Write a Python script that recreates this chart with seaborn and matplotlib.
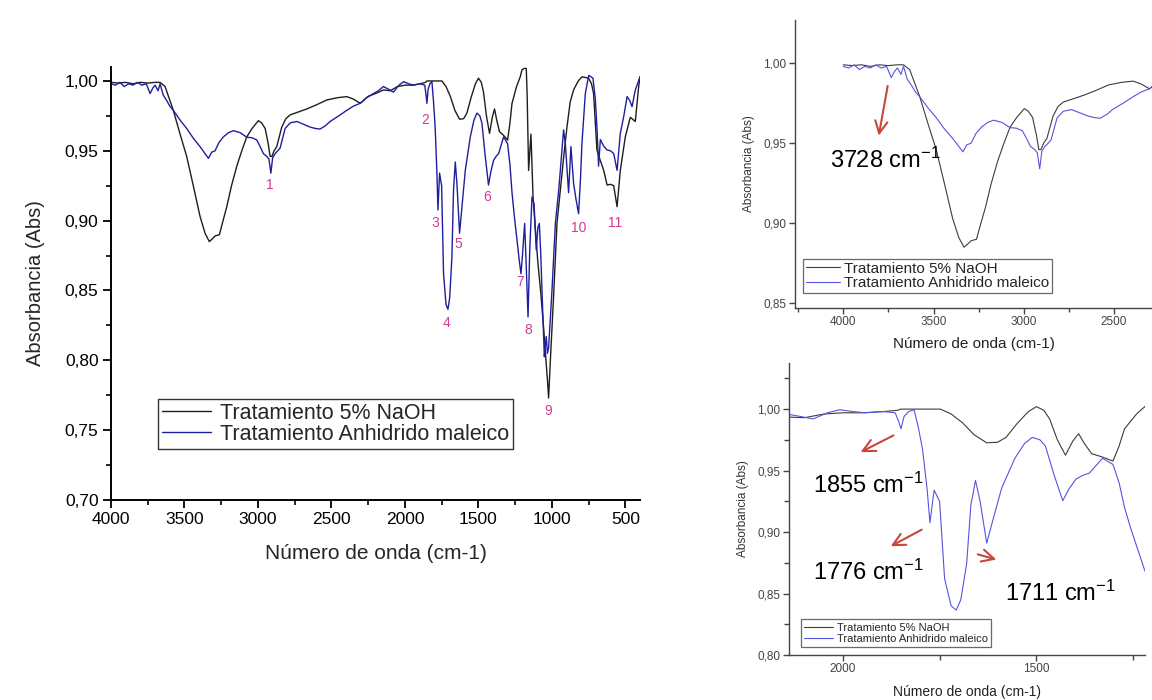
import numpy as np
import pandas as pd
import matplotlib
matplotlib.use("Agg")
import matplotlib.pyplot as plt
import seaborn as sns
from matplotlib.ticker import MultipleLocator, FuncFormatter

sns.set_theme(style="ticks")
plt.rcParams['font.family'] = ['Liberation Sans', 'DejaVu Sans']
plt.rcParams['mathtext.fontset'] = 'custom'
plt.rcParams['mathtext.rm'] = 'Liberation Sans'
plt.rcParams['mathtext.it'] = 'Liberation Sans:italic'

# ---------------- data ----------------
wavenumber_naoh = [4000, 3950, 3900, 3850, 3800, 3750, 3700, 3666, 3632, 3576, 3530, 3485, 3440,
                   3394, 3360, 3331, 3310, 3292, 3262, 3240, 3212, 3180, 3144, 3110, 3076, 3040,
                   2997, 2975, 2951, 2930, 2917, 2905, 2890, 2872, 2855, 2838, 2810, 2781, 2720,
                   2667, 2600, 2531, 2460, 2395, 2350, 2304, 2250, 2200, 2146, 2100, 2050, 2000,
                   1950, 1896, 1860, 1850, 1800, 1748, 1720, 1691, 1660, 1628, 1600, 1578, 1550,
                   1520, 1499, 1480, 1465, 1445, 1424, 1405, 1390, 1375, 1356, 1328, 1301, 1285,
                   1271, 1240, 1215, 1203, 1188, 1174, 1168, 1158, 1142, 1128, 1113, 1095, 1075,
                   1055, 1040, 1030, 1022, 1010, 988, 965, 942, 920, 897, 875, 852, 820, 795, 750,
                   730, 716, 693, 670, 647, 624, 600, 579, 556, 534, 500, 466, 432, 410, 400]
abs_naoh = [0.999, 0.9985, 0.999, 0.998, 0.999, 0.9985, 0.999, 0.999, 0.996, 0.979, 0.962, 0.946,
            0.925, 0.903, 0.891, 0.885, 0.887, 0.889, 0.890, 0.899, 0.910, 0.925, 0.939, 0.950,
            0.960, 0.966, 0.9716, 0.970, 0.966, 0.955, 0.946, 0.946, 0.950, 0.953, 0.960, 0.967,
            0.973, 0.9757, 0.978, 0.980, 0.983, 0.9864, 0.988, 0.9888, 0.987, 0.984, 0.989, 0.991,
            0.9936, 0.993, 0.996, 0.997, 0.997, 0.998, 0.999, 1.000, 1.000, 1.000, 0.996, 0.989,
            0.979, 0.9726, 0.973, 0.977, 0.988, 0.998, 1.002, 0.999, 0.992, 0.975, 0.9625, 0.974,
            0.980, 0.972, 0.9637, 0.961, 0.9577, 0.970, 0.984, 0.996, 1.003, 1.008, 1.009, 1.009,
            0.990, 0.936, 0.962, 0.917, 0.895, 0.870, 0.848, 0.822, 0.800, 0.786, 0.773, 0.800,
            0.846, 0.898, 0.922, 0.945, 0.967, 0.985, 0.9936, 1.000, 1.003, 1.002, 0.998, 0.991,
            0.9506, 0.943, 0.936, 0.9255, 0.926, 0.925, 0.910, 0.936, 0.960, 0.974, 0.971, 0.995,
            1.003]

wavenumber_ma = [4000, 3970, 3940, 3910, 3880, 3850, 3820, 3790, 3760, 3734, 3715, 3700, 3680,
                 3666, 3645, 3621, 3600, 3576, 3530, 3485, 3440, 3394, 3360, 3337, 3315, 3292,
                 3265, 3235, 3200, 3167, 3121, 3076, 3042, 3008, 2985, 2963, 2940, 2925, 2912,
                 2900, 2883, 2865, 2849, 2830, 2815, 2780, 2735, 2690, 2645, 2610, 2577, 2540,
                 2509, 2450, 2395, 2350, 2304, 2260, 2214, 2180, 2146, 2110, 2078, 2040, 2009,
                 1975, 1941, 1896, 1865, 1856, 1850, 1842, 1830, 1816, 1805, 1794, 1782, 1775,
                 1768, 1764, 1750, 1737, 1720, 1707, 1695, 1680, 1669, 1657, 1645, 1628, 1610,
                 1589, 1555, 1530, 1510, 1490, 1476, 1453, 1431, 1415, 1397, 1380, 1362, 1328,
                 1301, 1285, 1271, 1255, 1237, 1220, 1210, 1200, 1185, 1175, 1162, 1150, 1135,
                 1121, 1106, 1095, 1085, 1075, 1067, 1051, 1045, 1038, 1030, 1022, 1010, 999, 976,
                 953, 935, 920, 908, 886, 870, 852, 835, 818, 805, 795, 772, 749, 735, 720, 704,
                 693, 682, 670, 645, 624, 600, 579, 556, 534, 510, 488, 470, 454, 432, 410, 400]
abs_ma = [0.998, 0.997, 0.999, 0.996, 0.998, 0.997, 0.999, 0.997, 0.998, 0.991, 0.995, 0.997,
          0.993, 0.998, 0.990, 0.986, 0.982, 0.979, 0.972, 0.966, 0.959, 0.953, 0.948, 0.9446,
          0.949, 0.950, 0.956, 0.960, 0.963, 0.9644, 0.963, 0.9597, 0.9594, 0.9578, 0.953, 0.948,
          0.946, 0.944, 0.934, 0.945, 0.948, 0.950, 0.952, 0.960, 0.966, 0.970, 0.971, 0.969,
          0.967, 0.966, 0.9656, 0.968, 0.971, 0.975, 0.979, 0.982, 0.984, 0.988, 0.991, 0.993,
          0.996, 0.994, 0.992, 0.997, 0.9995, 0.998, 0.997, 0.998, 0.997, 0.990, 0.984, 0.994,
          0.998, 0.9995, 0.985, 0.967, 0.934, 0.9076, 0.925, 0.934, 0.925, 0.862, 0.840, 0.8365,
          0.845, 0.874, 0.922, 0.942, 0.925, 0.891, 0.912, 0.936, 0.960, 0.972, 0.977, 0.975,
          0.970, 0.946, 0.9255, 0.935, 0.943, 0.946, 0.948, 0.960, 0.955, 0.940, 0.920, 0.903,
          0.886, 0.870, 0.862, 0.875, 0.898, 0.870, 0.831, 0.880, 0.917, 0.912, 0.879, 0.895,
          0.898, 0.875, 0.850, 0.8026, 0.810, 0.817, 0.805, 0.809, 0.830, 0.850, 0.898, 0.922,
          0.945, 0.965, 0.955, 0.920, 0.953, 0.9267, 0.915, 0.905, 0.930, 0.9556, 0.991, 1.004,
          1.003, 1.002, 0.987, 0.967, 0.939, 0.958, 0.953, 0.9506, 0.950, 0.948, 0.936, 0.9625,
          0.975, 0.9888, 0.986, 0.9816, 0.9936, 1.000, 1.003]

series_labels = ["Tratamiento 5% NaOH", "Tratamiento Anhidrido maleico"]

peak_names = ["1", "2", "3", "4", "5", "6", "7", "8", "9", "10", "11"]
peak_text_x = [2917, 1862, 1794, 1719, 1637, 1440, 1215, 1162, 1024, 820, 568]
peak_text_y = [0.9255, 0.972, 0.898, 0.827, 0.883, 0.917, 0.856, 0.822, 0.764, 0.895, 0.898]

df_naoh = pd.DataFrame({"wavenumber": wavenumber_naoh, "absorbance": abs_naoh})
df_ma = pd.DataFrame({"wavenumber": wavenumber_ma, "absorbance": abs_ma})

comma = FuncFormatter(lambda v, p: f"{v:.2f}".replace(".", ","))

W, H = 1152, 700
fig = plt.figure(figsize=(W / 100, H / 100), dpi=100)
fig.patch.set_facecolor("white")


def axes_px(left, right, top, bottom):
    return fig.add_axes([left / W, 1 - bottom / H, (right - left) / W, (bottom - top) / H])


def style(ax, spine_color, lw):
    for s in ["top", "right"]:
        ax.spines[s].set_visible(False)
    for s in ["left", "bottom"]:
        ax.spines[s].set_color(spine_color)
        ax.spines[s].set_linewidth(lw)
    ax.set_facecolor("white")
    ax.grid(False)


# ---------------- main chart ----------------
ax = axes_px(111, 640, 67, 500)
style(ax, "black", 1.4)
main_black = "#1e1e1e"
main_blue = "#1f1f9e"
sns.lineplot(data=df_naoh, x="wavenumber", y="absorbance", ax=ax, color=main_black, lw=1.0,
             estimator=None, sort=False, label=series_labels[0])
sns.lineplot(data=df_ma, x="wavenumber", y="absorbance", ax=ax, color=main_blue, lw=1.0,
             estimator=None, sort=False, label=series_labels[1])
ax.set_xlim(4000, 400)
ax.set_ylim(0.70, 1.01)
ax.xaxis.set_major_locator(MultipleLocator(500))
ax.xaxis.set_minor_locator(MultipleLocator(250))
ax.yaxis.set_major_locator(MultipleLocator(0.05))
ax.yaxis.set_minor_locator(MultipleLocator(0.025))
ax.yaxis.set_major_formatter(comma)
ax.tick_params(which="major", direction="out", length=6, width=1.3, labelsize=12.5,
               colors="black", pad=3)
ax.tick_params(which="minor", direction="out", length=3.5, width=1.2, colors="black")
ax.set_xlabel("Número de onda (cm-1)", fontsize=15, labelpad=12)
ax.set_ylabel("Absorbancia (Abs)", fontsize=14.5, labelpad=14)
for name, tx, ty in zip(peak_names, peak_text_x, peak_text_y):
    ax.text(tx, ty, name, color="#d33b92", fontsize=10, ha="center", va="center")
leg = ax.legend(loc="lower left", bbox_to_anchor=(0.089, 0.118), borderaxespad=0,
                fontsize=15.5, frameon=True, fancybox=False, handlelength=2.3,
                handletextpad=0.4, labelspacing=0.02, borderpad=0.18)
leg.get_frame().set_edgecolor("black")
leg.get_frame().set_linewidth(1.0)
for line in leg.get_lines():
    line.set_linewidth(1.0)

inset_black = "#3c3c3c"
inset_blue = "#5555dd"
grey = "#444444"
arrow_red = "#c9463d"

# ---------------- top inset ----------------
ax1 = axes_px(795, 1152, 20, 308)
style(ax1, grey, 1.0)
sns.lineplot(data=df_naoh, x="wavenumber", y="absorbance", ax=ax1, color=inset_black, lw=0.8,
             estimator=None, sort=False, label=series_labels[0])
sns.lineplot(data=df_ma, x="wavenumber", y="absorbance", ax=ax1, color=inset_blue, lw=0.8,
             estimator=None, sort=False, label=series_labels[1])
ax1.set_xlim(4267, 2290)
ax1.set_ylim(0.847, 1.027)
ax1.xaxis.set_major_locator(MultipleLocator(500))
ax1.xaxis.set_minor_locator(MultipleLocator(250))
ax1.yaxis.set_major_locator(MultipleLocator(0.05))
ax1.yaxis.set_major_formatter(comma)
ax1.tick_params(which="major", direction="out", length=4, width=1.0, labelsize=8.5,
                colors=grey, pad=2)
ax1.tick_params(which="minor", direction="out", length=3, width=1.0, colors=grey)
ax1.set_xlabel("Número de onda (cm-1)", fontsize=11, color="#222222", labelpad=6)
ax1.set_ylabel("Absorbancia (Abs)", fontsize=8.5, color="#333333", labelpad=6)
leg1 = ax1.legend(loc="lower left", bbox_to_anchor=(0.022, 0.052), borderaxespad=0,
                  fontsize=11, frameon=True, fancybox=False, handlelength=2.2,
                  handletextpad=0.3, labelspacing=0.02, borderpad=0.2)
leg1.get_frame().set_edgecolor(grey)
leg1.get_frame().set_linewidth(0.9)
ax1.annotate("", xy=(3806, 0.953), xytext=(3751, 0.9875),
             arrowprops=dict(arrowstyle="->", color=arrow_red, lw=1.5, mutation_scale=22))
ax1.text(4072, 0.939, "3728 cm$^{-1}$", fontsize=17, color="black", ha="left", va="center")

# ---------------- bottom inset ----------------
ax2 = axes_px(789, 1145, 363, 655)
style(ax2, grey, 1.0)
sns.lineplot(data=df_naoh, x="wavenumber", y="absorbance", ax=ax2, color=inset_black, lw=0.8,
             estimator=None, sort=False, label=series_labels[0])
sns.lineplot(data=df_ma, x="wavenumber", y="absorbance", ax=ax2, color=inset_blue, lw=0.8,
             estimator=None, sort=False, label=series_labels[1])
ax2.set_xlim(2140, 1218)
ax2.set_ylim(0.80, 1.0375)
ax2.xaxis.set_major_locator(MultipleLocator(500))
ax2.xaxis.set_minor_locator(MultipleLocator(250))
ax2.yaxis.set_major_locator(MultipleLocator(0.05))
ax2.yaxis.set_minor_locator(MultipleLocator(0.025))
ax2.yaxis.set_major_formatter(comma)
ax2.tick_params(which="major", direction="out", length=4, width=1.0, labelsize=8.5,
                colors=grey, pad=2)
ax2.tick_params(which="minor", direction="out", length=3.5, width=1.0, colors=grey)
ax2.set_xlabel("Número de onda (cm-1)", fontsize=10, color="#222222", labelpad=7)
ax2.set_ylabel("Absorbancia (Abs)", fontsize=8.5, color="#333333", labelpad=6)
leg2 = ax2.legend(loc="lower left", bbox_to_anchor=(0.034, 0.027), borderaxespad=0,
                  fontsize=8, frameon=True, fancybox=False, handlelength=2.6,
                  handletextpad=0.3, labelspacing=0.1, borderpad=0.3)
leg2.get_frame().set_edgecolor(grey)
leg2.get_frame().set_linewidth(0.9)
for (x0, y0, x1, y1) in [(1863, 0.9796, 1961, 0.964), (1790, 0.903, 1883, 0.8874),
                         (1658, 0.8825, 1596, 0.877)]:
    ax2.annotate("", xy=(x1, y1), xytext=(x0, y0),
                 arrowprops=dict(arrowstyle="->", color=arrow_red, lw=1.5, mutation_scale=22))
ax2.text(2078, 0.938, "1855 cm$^{-1}$", fontsize=17, color="black", ha="left", va="center")
ax2.text(2078, 0.867, "1776 cm$^{-1}$", fontsize=17, color="black", ha="left", va="center")
ax2.text(1580, 0.850, "1711 cm$^{-1}$", fontsize=17, color="black", ha="left", va="center")

fig.savefig("out.png", dpi=100, facecolor="white")
